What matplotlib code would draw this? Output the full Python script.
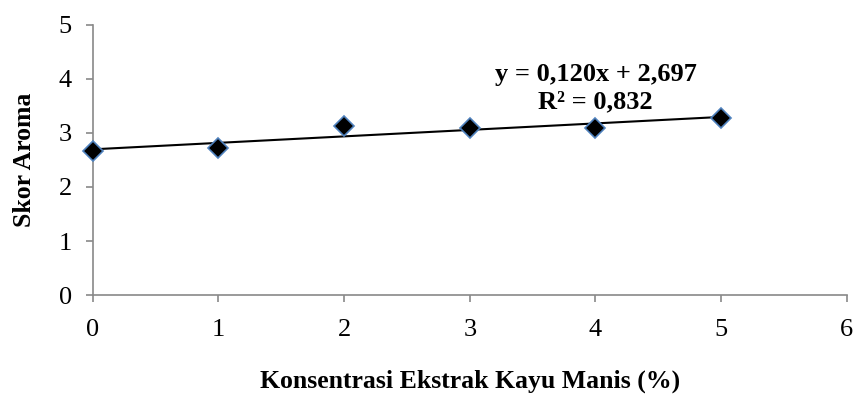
import numpy as np
import matplotlib
matplotlib.use('Agg')
import matplotlib.pyplot as plt

# Data
konsentrasi = [0, 1, 2, 3, 4, 5]
skor_aroma = [2.67, 2.72, 3.12, 3.10, 3.10, 3.28]
slope, intercept = 0.120, 2.697
eq_text = 'y = 0,120x + 2,697\nR² = 0,832'

plt.rcParams['font.family'] = ['Liberation Serif', 'DejaVu Serif']

fig = plt.figure(figsize=(8.58, 3.96), dpi=100)
ax = fig.add_axes([0.108, 0.255, 0.879, 0.682])

# trendline
xt = np.array([konsentrasi[0], konsentrasi[-1]])
ax.plot(xt, slope * xt + intercept, color='black', lw=1.5, zorder=2)

# data points
ax.plot(konsentrasi, skor_aroma, linestyle='', marker='D', markersize=10,
        markerfacecolor='black', markeredgecolor='#4F81BD', markeredgewidth=1.2,
        zorder=3, clip_on=False)

ax.text(4.0, 3.83, eq_text, ha='center', va='center', fontsize=19,
        fontweight='bold', linespacing=1.2)

ax.set_xlim(0, 6)
ax.set_ylim(0, 5)
ax.set_xticks(range(0, 7))
ax.set_yticks(range(0, 6))

for s in ['top', 'right']:
    ax.spines[s].set_visible(False)
for s in ['left', 'bottom']:
    ax.spines[s].set_color('#898989')
    ax.spines[s].set_linewidth(1.2)

ax.tick_params(axis='both', direction='out', length=5, width=1.2,
               color='#898989', labelsize=19)
ax.tick_params(axis='x', pad=12)
ax.tick_params(axis='y', pad=10)

ax.set_xlabel('Konsentrasi Ekstrak Kayu Manis (%)', fontsize=18.5,
              fontweight='bold', labelpad=21)
ax.set_ylabel('Skor Aroma', fontsize=18.5, fontweight='bold', labelpad=16)

fig.savefig('out.png', dpi=100)
